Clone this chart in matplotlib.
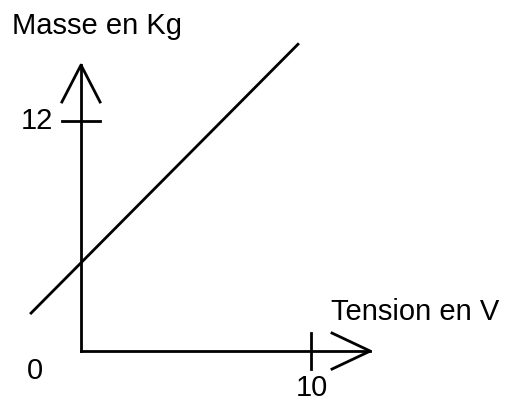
import numpy as np
import matplotlib
matplotlib.use('Agg')
import matplotlib.pyplot as plt

# schematic: mass (kg) versus voltage (V), straight line with an offset
line_x = [-2.17, 9.43]
line_y = [1.98, 16.0]
x_tick = 10
y_tick = 12
x_label = "Tension en V"
y_label = "Masse en Kg"

plt.rcParams['font.family'] = ['Liberation Sans', 'DejaVu Sans']

fig = plt.figure(figsize=(5.05, 3.99), dpi=100)
ax = fig.add_axes([0, 0, 1, 1])
ax.set_xlim(-3.52, 18.43)
ax.set_ylim(-2.50, 18.31)
ax.axis('off')

lw = 2.0
k = 'black'

# axes with open arrow heads
ax.plot([0, 0], [0, 14.92], color=k, lw=lw, solid_capstyle='projecting')
ax.plot([-0.83, 0, 0.83], [12.99, 14.92, 12.99], color=k, lw=lw)
ax.plot([0, 12.57], [0, 0], color=k, lw=lw, solid_capstyle='projecting')
ax.plot([10.91, 12.57, 10.91], [0.94, 0, -0.94], color=k, lw=lw)

# tick marks
ax.plot([-0.83, 0.83], [y_tick, y_tick], color=k, lw=lw)
ax.plot([x_tick, x_tick], [0.94, -0.94], color=k, lw=lw)

# the line
ax.plot(line_x, line_y, color=k, lw=lw)

fs = 21
ax.text(-1.2, y_tick, str(y_tick), fontsize=fs, ha='right', va='center')
ax.text(x_tick + 0.05, -1.95, str(x_tick), fontsize=fs, ha='center', va='center')
ax.text(-2.0, -1.04, "0", fontsize=fs, ha='center', va='center')
ax.text(-2.98, 16.93, y_label, fontsize=fs, ha='left', va='center')
ax.text(10.88, 2.03, x_label, fontsize=fs, ha='left', va='center')

fig.savefig('out.png', dpi=100)
